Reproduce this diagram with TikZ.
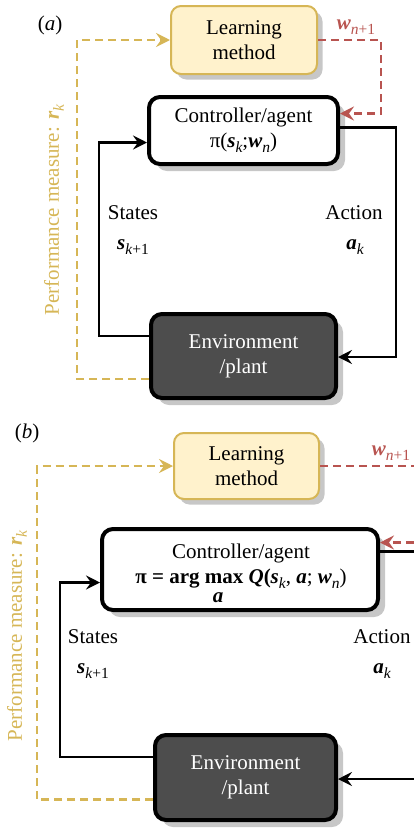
\documentclass[tikz,border=0pt]{standalone}
\usepackage{fontspec}
\setmainfont{Liberation Serif}
\usetikzlibrary{arrows.meta,shadows,calc}
\definecolor{yel}{HTML}{D6B656}
\definecolor{yelfill}{HTML}{FFF2CC}
\definecolor{redc}{HTML}{B85450}
\definecolor{darkc}{HTML}{4D4D4D}
\newcommand\bi[1]{\textbf{\textit{#1}}}
\newcommand\mysub[1]{\raisebox{-0.5ex}{\fontsize{15.5}{15.5}\selectfont\itshape #1}}
\tikzset{
  lbl/.style={font=\fontsize{21}{25}\selectfont, align=center, inner sep=0pt},
  learnbox/.style={lbl, draw=yel, fill=yelfill, line width=2pt, rounded corners=10pt,
    drop shadow={shadow xshift=5.5pt, shadow yshift=-5.5pt, fill=black!22, opacity=1}},
  ctrlbox/.style={lbl, draw=black, fill=white, line width=4pt, rounded corners=11pt,
    drop shadow={shadow xshift=7pt, shadow yshift=-7pt, fill=black!22, opacity=1}},
  envbox/.style={ctrlbox, fill=darkc, text=white},
  tip/.style={-{Stealth[length=14pt,width=14pt,inset=5pt]}},
  conn/.style={draw=black, line width=2.2pt, tip},
  perfline/.style={draw=yel, line width=2.2pt, dash pattern=on 8pt off 5pt, tip},
  wline/.style={draw=redc, line width=2.2pt, dash pattern=on 8pt off 5pt},
}
\begin{document}
\begin{tikzpicture}[x=1pt,y=-1pt]
\useasboundingbox (0,0) rectangle (414,828);
\clip (0,0) rectangle (414,828);
% ---------- panel (a)
\node[lbl] (tagA) at (50,25) {(\textit{a})};
\node[learnbox, minimum width=146pt, minimum height=68pt] (learnA) at (244,40) {Learning\\method};
\node[ctrlbox, minimum width=189pt, minimum height=67pt] (ctrlA) at (243.5,130.5) {Controller/agent\\π(\bi{s}\mysub{k};\bi{w}\mysub{n})};
\node[envbox, minimum width=185pt, minimum height=84pt] (envA) at (243.5,356) {Environment\\/plant};
\node[lbl, text=redc] (wA) at (356,27) {\bi{w}\mysub{n{\upshape+1}}};
\node[lbl] (statesA) at (133,213) {States};
\node[lbl] (skA) at (133,247) {\bi{s}\mysub{k{\upshape+1}}};
\node[lbl] (actionA) at (354,213) {Action};
\node[lbl] (akA) at (355,247) {\bi{a}\mysub{k}};
\node[lbl, text=yel, rotate=90] (perfA) at (54,210) {Performance measure: \bi{r}\mysub{k}};
\draw[perfline] ($(envA.west)+(0,23)$) -| ($(learnA.west)+(-93,0)$) -- (learnA.west);
\draw[wline, tip] (learnA.east) -| ($(ctrlA.east)+(41,-17)$) -- ($(ctrlA.east)+(0,-17)$);
\draw[conn] ($(envA.west)+(0,-20)$) -| ($(ctrlA.west)+(-48,12)$) -- ($(ctrlA.west)+(0,12)$);
\draw[conn] ($(ctrlA.east)+(0,-3)$) -| ($(envA.east)+(58,1)$) -- ($(envA.east)+(0,1)$);
% ---------- panel (b)
\node[lbl] (tagB) at (27,433) {(\textit{b})};
\node[learnbox, minimum width=145pt, minimum height=66pt] (learnB) at (246.5,466) {Learning\\method};
\node[ctrlbox, minimum width=276pt, minimum height=81pt] (ctrlB) at (240,569.5) {};
\node[lbl] (ctrlBt) at (241,566) {Controller/agent\\\textbf{π = arg max }\bi{Q}\textbf{(}\bi{s}\mysub{k}, \bi{a}; \bi{w}\mysub{n})};
\node[lbl] (argA) at (218,598) {\bi{a}};
\node[envbox, minimum width=181pt, minimum height=85pt] (envB) at (245.5,777.5) {Environment\\/plant};
\node[lbl, text=redc] (wB) at (391,453) {\bi{w}\mysub{n{\upshape+1}}};
\node[lbl] (statesB) at (93,637) {States};
\node[lbl] (skB) at (93,671) {\bi{s}\mysub{k{\upshape+1}}};
\node[lbl] (actionB) at (382,637) {Action};
\node[lbl] (akB) at (382,671) {\bi{a}\mysub{k}};
\node[lbl, text=yel, rotate=90] (perfB) at (17,636) {Performance measure: \bi{r}\mysub{k}};
\coordinate (redOutB) at (440,466);
\coordinate (redInB) at (440,542.5);
\coordinate (actOutB) at (440,551.5);
\coordinate (actInB) at (440,779);
\draw[perfline] ($(envB.west)+(0,22)$) -| ($(learnB.west)+(-136,0)$) -- (learnB.west);
\draw[wline] (learnB.east) -- (redOutB);
\draw[wline, tip] (redInB) -- (ctrlB.east |- redInB);
\draw[conn] ($(envB.west)+(0,-20.5)$) -| ($(ctrlB.west)+(-40,13)$) -- ($(ctrlB.west)+(0,13)$);
\draw[conn, -] (ctrlB.east |- actOutB) -- (actOutB);
\draw[conn] (actInB) -- (envB.east |- actInB);
\end{tikzpicture}
\end{document}
